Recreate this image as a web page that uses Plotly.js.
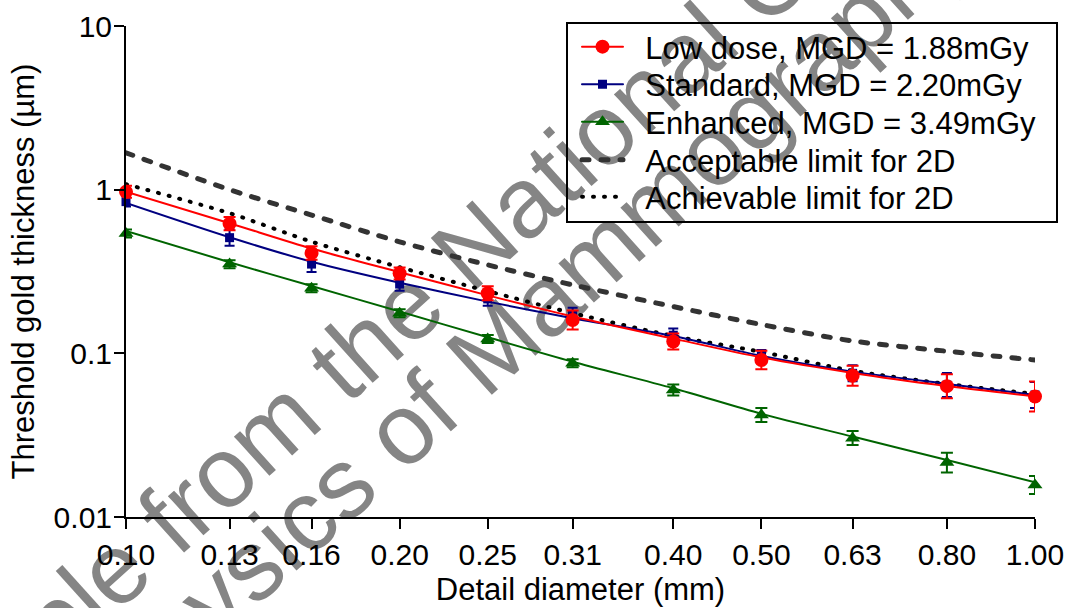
<!DOCTYPE html>
<html><head><meta charset="utf-8">
<script src="https://cdn.plot.ly/plotly-3.0.1.min.js"></script>
<style>
html,body{margin:0;padding:0;background:#fff;}
#wrap{position:relative;width:1069px;height:608px;overflow:hidden;background:#fff;}
#wm{position:absolute;left:0;top:0;z-index:0;}
#chart{position:absolute;left:0;top:0;width:1069px;height:608px;z-index:1;}
#chart path.js-line{stroke-linecap:round;}
</style></head>
<body><div id="wrap">
<svg id="wm" width="1069" height="608">
 <g font-family="Liberation Sans, Arial, sans-serif" font-size="100" fill="#858585">
  <text transform="translate(-95,804) rotate(-42)">Sample from the National Coordinating Centre</text>
  <text transform="translate(-105,932) rotate(-42)">for the Physics of Mammography</text>
 </g>
</svg>
<div id="chart"></div></div>
<script>
// Detail diameter (mm)
const diameters = [0.10, 0.13, 0.16, 0.20, 0.25, 0.31, 0.40, 0.50, 0.63, 0.80, 1.00];
const diameterLabels = ['0.10','0.13','0.16','0.20','0.25','0.31','0.40','0.50','0.63','0.80','1.00'];
const yTickVals = [0.01, 0.1, 1, 10];
const yTickLabels = ['0.01', '0.1', '1', '10'];

// Low dose, MGD = 1.88mGy
const lowDose      = [0.97, 0.62, 0.41, 0.308, 0.233, 0.16, 0.118, 0.091, 0.073, 0.063, 0.0545];
const lowDoseErrUp = [0.085, 0.061, 0.041, 0.027, 0.024, 0.023, 0.014, 0.0127, 0.011, 0.0116, 0.0128];
const lowDoseErrDn = [0.079, 0.056, 0.037, 0.025, 0.022, 0.020, 0.0125, 0.0112, 0.0096, 0.0098, 0.0104];
const lowDoseFit   = [0.97, 0.624, 0.437, 0.313, 0.226, 0.168, 0.123, 0.0944, 0.0759, 0.0631, 0.0545];

// Standard, MGD = 2.20mGy
const standard      = [0.845, 0.509, 0.351, 0.265, 0.215, 0.172, 0.129, 0.0964, 0.0755, 0.064, 0.0557];
const standardErrUp = [0.062, 0.061, 0.042, 0.026, 0.022, 0.018, 0.013, 0.0085, 0.009, 0.0118, 0.011];
const standardErrDn = [0.057, 0.054, 0.037, 0.024, 0.020, 0.016, 0.012, 0.0078, 0.008, 0.0099, 0.0093];
const standardFit   = [0.83, 0.512, 0.363, 0.270, 0.207, 0.164, 0.1276, 0.0964, 0.0773, 0.065, 0.0557];

// Enhanced, MGD = 3.49mGy
const enhanced      = [0.54, 0.351, 0.25, 0.176, 0.1225, 0.0871, 0.0597, 0.042, 0.0303, 0.0215, 0.0157];
const enhancedErrUp = [0.03, 0.02, 0.014, 0.01, 0.007, 0.005, 0.0048, 0.0044, 0.0032, 0.0032, 0.0021];
const enhancedErrDn = [0.03, 0.02, 0.014, 0.01, 0.007, 0.005, 0.0044, 0.0040, 0.0028, 0.0028, 0.0019];
const enhancedFit   = [0.56, 0.36, 0.258, 0.18, 0.1253, 0.0889, 0.0612, 0.0427, 0.031, 0.0223, 0.0163];

// Limits for 2D
const acceptableLimit = [1.68, 1.0, 0.70, 0.48, 0.347, 0.262, 0.193, 0.150, 0.119, 0.103, 0.091];
const achievableLimit = [1.08, 0.718, 0.481, 0.336, 0.24, 0.176, 0.1276, 0.102, 0.0783, 0.065, 0.0565];

// Legend entries
const legendNames = ['Low dose, MGD = 1.88mGy', 'Standard, MGD = 2.20mGy', 'Enhanced, MGD = 3.49mGy',
                     'Acceptable limit for 2D', 'Achievable limit for 2D'];

const FONT = 'Liberation Sans, Arial, Helvetica, sans-serif';
const RED = '#ff0000', BLUE = '#000080', GREEN = '#006400', DASHC = '#333333';
const PAD = '\u00a0\u00a0';

function fitTrace(y, color) {
  return {x: diameters, y: y, mode: 'lines', type: 'scatter', showlegend: false,
    line: {color: color, width: 2, shape: 'spline', smoothing: 0.8}, hoverinfo: 'skip', cliponaxis: false};
}
function ptsTrace(y, up, dn, color, symbol, size, capw) {
  return {x: diameters, y: y, mode: 'markers', type: 'scatter', showlegend: false, cliponaxis: false,
    marker: {color: color, symbol: symbol, size: size},
    error_y: {type: 'data', symmetric: false, array: up, arrayminus: dn, color: color, thickness: 2, width: capw}};
}
function legendTrace(i, line, marker) {
  const t = {x: [null], y: [null], type: 'scatter', name: PAD + legendNames[i],
    legend: i === 0 ? 'legend' : 'legend' + (i + 1),
    mode: marker ? 'lines+markers' : 'lines', line: line};
  if (marker) t.marker = marker;
  return t;
}

const data = [
  {x: diameters, y: acceptableLimit, mode: 'lines', type: 'scatter', showlegend: false, cliponaxis: false,
   line: {color: DASHC, width: 5, dash: '7px,12px', shape: 'spline', smoothing: 0.8}},
  {x: diameters, y: achievableLimit, mode: 'lines', type: 'scatter', showlegend: false, cliponaxis: false,
   line: {color: '#000', width: 4, dash: '1px,10px', shape: 'spline', smoothing: 0.8}},
  fitTrace(enhancedFit, GREEN),
  fitTrace(standardFit, BLUE),
  fitTrace(lowDoseFit, RED),
  ptsTrace(enhanced, enhancedErrUp, enhancedErrDn, GREEN, 'triangle-up', 13, 6),
  ptsTrace(standard, standardErrUp, standardErrDn, BLUE, 'square', 9, 5),
  ptsTrace(lowDose, lowDoseErrUp, lowDoseErrDn, RED, 'circle', 14, 6),
  legendTrace(0, {color: RED, width: 2}, {color: RED, symbol: 'circle', size: 14}),
  legendTrace(1, {color: BLUE, width: 2}, {color: BLUE, symbol: 'square', size: 9}),
  legendTrace(2, {color: GREEN, width: 2}, {color: GREEN, symbol: 'triangle-up', size: 13}),
  legendTrace(3, {color: DASHC, width: 5, dash: '7px,12px'}),
  legendTrace(4, {color: '#000', width: 4, dash: '1px,10px'})
];

// plot area: x 126..1035, y 26..517 (pixels)
const rowCentersPx = [47, 84.5, 122, 160, 197];
function legendAt(py) {
  return {x: (577 - 126) / 909, xanchor: 'left', y: (517 - py) / 491, yanchor: 'middle',
    bgcolor: 'rgba(0,0,0,0)', borderwidth: 0, itemwidth: 41,
    font: {family: FONT, size: 31, color: '#000'}};
}

const layout = {
  width: 1069, height: 608,
  margin: {l: 126, r: 34, t: 26, b: 91, pad: 0},
  paper_bgcolor: 'rgba(0,0,0,0)', plot_bgcolor: 'rgba(0,0,0,0)',
  font: {family: FONT, color: '#000', size: 30},
  showlegend: true,
  legend: legendAt(rowCentersPx[0]),
  legend2: legendAt(rowCentersPx[1]),
  legend3: legendAt(rowCentersPx[2]),
  legend4: legendAt(rowCentersPx[3]),
  legend5: legendAt(rowCentersPx[4]),
  shapes: [{type: 'rect', xref: 'paper', yref: 'paper',
    x0: (567 - 126) / 909, x1: (1057 - 126) / 909, y0: (517 - 222) / 491, y1: (517 - 23) / 491,
    line: {color: '#000', width: 2}, fillcolor: 'rgba(0,0,0,0)'}],
  xaxis: {type: 'log', range: [-1, 0], tickmode: 'array', tickvals: diameters, ticktext: diameterLabels,
    showline: true, linecolor: '#000', linewidth: 2, ticks: 'outside', ticklen: 10, tickwidth: 2, tickcolor: '#000',
    showgrid: false, zeroline: false, automargin: false, tickfont: {family: FONT, size: 30, color: '#000'},
    title: {text: 'Detail diameter (mm)', font: {family: FONT, size: 31, color: '#000'}, standoff: 8}},
  yaxis: {type: 'log', range: [-2, 1], tickmode: 'array', tickvals: yTickVals, ticktext: yTickLabels,
    showline: true, linecolor: '#000', linewidth: 2, ticks: 'outside', ticklen: 10, tickwidth: 2, tickcolor: '#000',
    ticklabelstandoff: -4,
    showgrid: false, zeroline: false, automargin: false, tickfont: {family: FONT, size: 30, color: '#000'},
    title: {text: 'Threshold gold thickness (\u00b5m)', font: {family: FONT, size: 31, color: '#000'}, standoff: 10}}
};

Plotly.newPlot('chart', data, layout, {displayModeBar: false, staticPlot: true});
</script>
</body></html>
